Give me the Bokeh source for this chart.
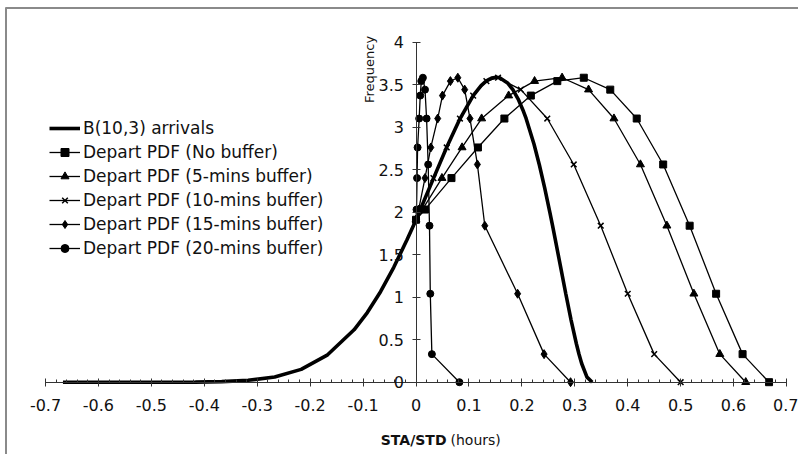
import math
from bokeh.plotting import figure
from bokeh.models import Range1d, FixedTicker, Legend, LegendItem
from bokeh.embed import file_html
from bokeh.resources import INLINE
from bokeh.core.properties import value

# ---------------- data ----------------
x_ticks = [-0.7, -0.6, -0.5, -0.4, -0.3, -0.2, -0.1, 0, 0.1, 0.2, 0.3, 0.4, 0.5, 0.6, 0.7]
x_tick_labels = ["-0.7", "-0.6", "-0.5", "-0.4", "-0.3", "-0.2", "-0.1", "0",
                 "0.1", "0.2", "0.3", "0.4", "0.5", "0.6", "0.7"]
y_ticks = [0, 0.5, 1, 1.5, 2, 2.5, 3, 3.5, 4]
y_tick_labels = ["0", "0.5", "1", "1.5", "2", "2.5", "3", "3.5", "4"]

arr_x = [-0.667, -0.567, -0.467, -0.417, -0.367, -0.317, -0.267, -0.217, -0.167, -0.117,
         -0.092, -0.067, -0.042, -0.017, 0.0, 0.008, 0.033, 0.058, 0.083, 0.108,
         0.123, 0.133, 0.143, 0.152, 0.158, 0.173, 0.183, 0.193, 0.203, 0.208,
         0.223, 0.233, 0.243, 0.253, 0.258, 0.263, 0.273, 0.283, 0.293, 0.303,
         0.308, 0.313, 0.323, 0.333]
arr_y = [0.0, 0.0, 0.0002, 0.0014, 0.0064, 0.022, 0.062, 0.151, 0.322, 0.616,
         0.819, 1.064, 1.351, 1.675, 1.908, 2.028, 2.397, 2.762, 3.097, 3.370,
         3.488, 3.543, 3.576, 3.585, 3.579, 3.518, 3.440, 3.329, 3.185, 3.101,
         2.798, 2.557, 2.288, 1.994, 1.841, 1.683, 1.361, 1.040, 0.731, 0.452,
         0.328, 0.220, 0.060, 0.0]

nobuf_x = [0.0, 0.017, 0.067, 0.117, 0.167, 0.217, 0.267, 0.317, 0.367, 0.417, 0.467, 0.517, 0.567, 0.617, 0.667]
nobuf_y = [1.91, 2.03, 2.40, 2.76, 3.10, 3.37, 3.54, 3.58, 3.44, 3.10, 2.56, 1.84, 1.04, 0.33, 0.0]

buf5_x = [0.0, 0.012, 0.049, 0.087, 0.124, 0.175, 0.224, 0.276, 0.326, 0.374, 0.424, 0.474, 0.525, 0.574, 0.623]
buf5_y = [1.91, 2.03, 2.40, 2.76, 3.10, 3.37, 3.54, 3.58, 3.44, 3.10, 2.56, 1.84, 1.04, 0.33, 0.0]

buf10_x = [0.0, 0.008, 0.033, 0.058, 0.083, 0.108, 0.133, 0.155, 0.198, 0.248, 0.298, 0.349, 0.400, 0.450, 0.500]
buf10_y = [1.91, 2.03, 2.40, 2.76, 3.10, 3.37, 3.54, 3.58, 3.44, 3.10, 2.56, 1.84, 1.04, 0.33, 0.0]

buf15_x = [0.0, 0.005, 0.017, 0.028, 0.041, 0.050, 0.065, 0.079, 0.092, 0.102, 0.116, 0.130, 0.192, 0.242, 0.292]
buf15_y = [1.91, 2.03, 2.40, 2.76, 3.10, 3.37, 3.54, 3.58, 3.44, 3.10, 2.56, 1.84, 1.04, 0.33, 0.0]

buf20_x = [0.0, 0.001, 0.002, 0.003, 0.006, 0.008, 0.010, 0.013, 0.017, 0.020, 0.023, 0.0255, 0.027, 0.030, 0.082]
buf20_y = [1.91, 2.03, 2.40, 2.76, 3.10, 3.37, 3.54, 3.58, 3.44, 3.10, 2.56, 1.84, 1.04, 0.33, 0.0]

# ---------------- layout ----------------
W, H = 798, 454
X0PX, XS = 415.5, 529.3      # pixel of x=0, pixels per unit
Y0PX, YS = 381.7, 85.05      # pixel of y=0, pixels per unit


def dx(px):
    return (px - X0PX) / XS


def dy(py):
    return (Y0PX - py) / YS


FONT = "DejaVu Sans"
INK = "#111111"

p = figure(width=W, height=H, output_backend="svg", toolbar_location=None,
           x_range=Range1d(dx(0), dx(W)), y_range=Range1d(dy(H), dy(0)),
           min_border=0, min_border_left=0, min_border_right=0,
           min_border_top=0, min_border_bottom=0, title=None)
p.outline_line_color = None
p.background_fill_color = "white"
p.border_fill_color = "white"
p.grid.visible = False

# axes crossing at the origin
xa = p.xaxis[0]
ya = p.yaxis[0]
xa.fixed_location = 0
ya.fixed_location = 0
xa.bounds = (-0.7, 0.7)
ya.bounds = (0, 4)
minor = [round(-0.7 + 0.02 * i, 2) for i in range(71)]
xa.ticker = FixedTicker(ticks=x_ticks, minor_ticks=minor)
ya.ticker = FixedTicker(ticks=y_ticks, minor_ticks=[])
xa.major_label_overrides = dict(zip(x_ticks, x_tick_labels))
ya.major_label_overrides = dict(zip(y_ticks, y_tick_labels))
for ax in (xa, ya):
    ax.axis_line_color = "#333333"
    ax.axis_line_width = 1
    ax.major_tick_line_color = "#333333"
    ax.minor_tick_line_color = "#333333"
    ax.major_tick_in = 4
    ax.major_tick_out = 4
    ax.major_label_text_font = FONT
    ax.major_label_text_font_size = "16px"
    ax.major_label_text_color = INK
xa.minor_tick_in = 3
xa.minor_tick_out = 0
ya.minor_tick_in = 0
ya.minor_tick_out = 0
xa.major_label_standoff = 13
ya.major_label_standoff = 8

# outer frame of the figure (grey border, top & left)
p.segment(x0=[dx(5.5), dx(5)], y0=[dy(454), dy(7.5)], x1=[dx(5.5), dx(798)], y1=[dy(7), dy(7.5)],
          line_color="#8a8a8a", line_width=2)

# ---------------- series ----------------
r_arr = p.line(arr_x, arr_y, line_color="black", line_width=3.6)

lw = 1.3
l0 = p.line(nobuf_x, nobuf_y, line_color="black", line_width=lw)
m0 = p.scatter(nobuf_x, nobuf_y, marker="square", size=7, color="black")
l5 = p.line(buf5_x, buf5_y, line_color="black", line_width=lw)
m5 = p.scatter(buf5_x, buf5_y, marker="triangle", size=8, color="black")
l10 = p.line(buf10_x, buf10_y, line_color="black", line_width=lw)
m10 = p.scatter(buf10_x, buf10_y, marker="x", size=8, line_color="black", line_width=1.5)
l15 = p.line(buf15_x, buf15_y, line_color="black", line_width=lw)
m15 = p.scatter(buf15_x, buf15_y, marker="diamond", size=9, color="black")
l20 = p.line(buf20_x, buf20_y, line_color="black", line_width=lw)
m20 = p.scatter(buf20_x, buf20_y, marker="circle", size=7, color="black")

# ---------------- texts ----------------
p.text(x=[dx(369)], y=[dy(69)], text=["Frequency"], angle=math.pi / 2,
       text_align="center", text_baseline="middle",
       text_font=value(FONT), text_font_size="13px", text_color=INK)
p.text(x=[dx(446)], y=[dy(439)], text=["STA/STD"], text_align="right", text_baseline="middle",
       text_font=value(FONT), text_font_size="14px", text_font_style="bold", text_color=INK)
p.text(x=[dx(450)], y=[dy(439)], text=["(hours)"], text_align="left", text_baseline="middle",
       text_font=value(FONT), text_font_size="14px", text_color=INK)

# ---------------- legend ----------------
items = [
    LegendItem(label="B(10,3) arrivals", renderers=[r_arr]),
    LegendItem(label="Depart PDF (No buffer)", renderers=[l0, m0]),
    LegendItem(label="Depart PDF (5-mins buffer)", renderers=[l5, m5]),
    LegendItem(label="Depart PDF (10-mins buffer)", renderers=[l10, m10]),
    LegendItem(label="Depart PDF (15-mins buffer)", renderers=[l15, m15]),
    LegendItem(label="Depart PDF (20-mins buffer)", renderers=[l20, m20]),
]
legend = Legend(items=items, location=(49, H - 258), padding=0, margin=0,
                border_line_alpha=0, background_fill_alpha=0,
                glyph_width=31, glyph_height=20, label_height=20, label_standoff=3,
                spacing=4, label_text_font=FONT, label_text_font_size="17px",
                label_text_color=INK)
p.add_layout(legend)

open("out.html", "w").write(file_html(p, INLINE))
